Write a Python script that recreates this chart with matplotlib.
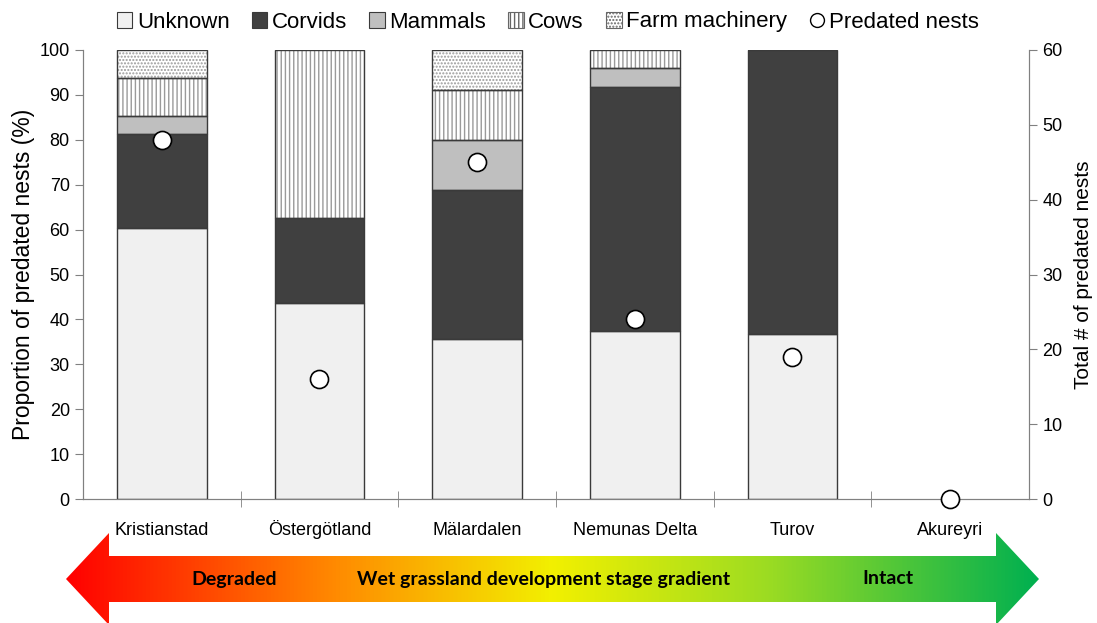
import numpy as np
import matplotlib.pyplot as plt
from matplotlib.patches import Patch, Polygon
from matplotlib.lines import Line2D
from matplotlib.colors import LinearSegmentedColormap

plt.rcParams['font.family'] = ['Liberation Sans', 'DejaVu Sans']

sites = ['Kristianstad', 'Östergötland', 'Mälardalen', 'Nemunas Delta', 'Turov', 'Akureyri']
# proportion of predated nests (%) by predator
unknown = [60.4, 43.75, 35.6, 37.5, 36.8, 0]
corvids = [20.8, 18.75, 33.3, 54.2, 63.2, 0]
mammals = [4.2, 0, 11.1, 4.2, 0, 0]
cows = [8.3, 37.5, 11.1, 4.1, 0, 0]
farm = [6.3, 0, 8.9, 0, 0, 0]
# total number of predated nests
n_predated = [48, 16, 45, 24, 19, 0]

W, H = 1097, 623
fig = plt.figure(figsize=(W / 100, H / 100), dpi=100)
ax = fig.add_axes([83 / W, (H - 499) / H, (1029 - 83) / W, (499 - 50) / H])

x = np.arange(len(sites))
bw = 0.57
edge = '#3a3a3a'
series = [
    ('Unknown', unknown, '#f0f0f0', None),
    ('Corvids', corvids, '#404040', None),
    ('Mammals', mammals, '#bfbfbf', None),
    ('Cows', cows, 'white', '||||'),
    ('Farm machinery', farm, 'white', '.....'),
]
bottom = np.zeros(len(sites))
handles = []
for name, vals, col, hatch in series:
    vals = np.array(vals)
    keep = vals > 0
    if hatch:
        ax.bar(x[keep], vals[keep], bw, bottom=bottom[keep], color=col, hatch=hatch,
               edgecolor='#9a9a9a', linewidth=0, zorder=2)
    else:
        ax.bar(x[keep], vals[keep], bw, bottom=bottom[keep], color=col,
               linewidth=0, zorder=2)
    ax.bar(x[keep], vals[keep], bw, bottom=bottom[keep], fill=False, edgecolor=edge,
           linewidth=1.0, zorder=3)
    bottom += vals
    handles.append(Patch(facecolor=col, edgecolor=edge if not hatch else '#666666',
                         hatch=hatch, linewidth=0.8, label=name))

ax.set_xlim(-0.5, len(sites) - 0.5)
ax.set_ylim(0, 100)
ax.set_yticks(np.arange(0, 101, 10))
ax.set_xticks(x)
ax.set_xticklabels(sites, fontsize=13, va='baseline')
ax.set_xticks(np.arange(0.5, len(sites) - 1, 1), minor=True)
ax.tick_params(axis='x', which='major', length=0, pad=26)
ax.tick_params(axis='x', which='minor', direction='inout', length=12, color='#808080')
ax.tick_params(axis='y', direction='out', length=6, color='#808080', labelsize=13)
ax.set_ylabel('Proportion of predated nests (%)', fontsize=16.5, labelpad=3)
ax.spines['top'].set_visible(False)
for s in ['left', 'bottom', 'right']:
    ax.spines[s].set_color('#808080')

ax2 = ax.twinx()
ax2.set_ylim(0, 60)
ax2.set_yticks(np.arange(0, 61, 10))
ax2.tick_params(axis='y', direction='out', length=6, color='#808080', labelsize=13)
ax2.set_ylabel('Total # of predated nests', fontsize=15, labelpad=8)
ax2.spines['top'].set_visible(False)
for s in ['left', 'bottom', 'right']:
    ax2.spines[s].set_color('#808080')
ax2.plot(x, n_predated, linestyle='none', marker='o', markersize=13,
         markerfacecolor='white', markeredgecolor='black', markeredgewidth=1.2,
         clip_on=False, zorder=5)

handles.append(Line2D([], [], linestyle='none', marker='o', markersize=10,
                      markerfacecolor='white', markeredgecolor='black',
                      label='Predated nests'))
fig.legend(handles=handles, loc='center', bbox_to_anchor=(548 / W, 1 - 22 / H),
           ncol=6, frameon=False, fontsize=16, handlelength=0.7, handleheight=0.7,
           handletextpad=0.2, columnspacing=1.0)

# gradient arrow underneath
ov = fig.add_axes([0, 0, 1, 1], zorder=-1)
ov.axis('off')
cmap = LinearSegmentedColormap.from_list(
    'grad', [(0, '#ff0000'), (0.28, '#ff8c00'), (0.5, '#f2f000'),
             (0.72, '#9ddc22'), (1.0, '#00b050')])
arrow = Polygon([(66, 579), (109, 533), (109, 556), (996, 556), (996, 533),
                 (1039, 579), (996, 625), (996, 602), (109, 602), (109, 625)],
                closed=True, facecolor='none', edgecolor='none')
ov.add_patch(arrow)
grad = np.linspace(0, 1, 512).reshape(1, -1)
im = ov.imshow(grad, cmap=cmap, aspect='auto', extent=[66, 1039, 625, 530])
im.set_clip_path(arrow)
ov.set_xlim(0, W)
ov.set_ylim(H, 0)
tkw = dict(ha='center', va='center', fontsize=14, fontweight='bold',
           family=['Lato', 'DejaVu Sans'])
ov.text(234, 579, 'Degraded', **tkw)
ov.text(544, 579, 'Wet grassland development stage gradient', **tkw)
ov.text(888, 579, 'Intact', **tkw)

fig.savefig('out.png', dpi=100)
